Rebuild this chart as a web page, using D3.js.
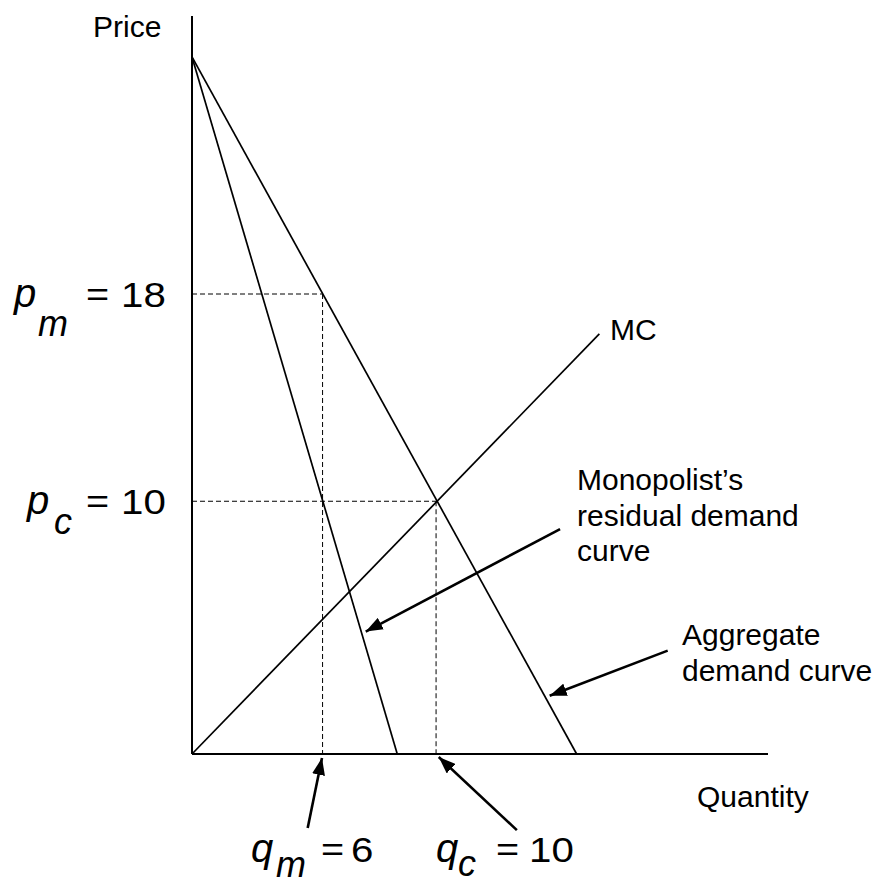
<!DOCTYPE html>
<html>
<head>
<meta charset="utf-8">
<script src="https://cdn.jsdelivr.net/npm/d3@7"></script>
<style>
  body { margin: 0; background: #fff; }
  text { font-family: "Liberation Sans", Arial, sans-serif; fill: #000; }
</style>
</head>
<body>
<div id="chart"></div>
<script>
// sketch units (the drawing is not to scale)
var axisMax = [23.6, 29.2];               // [quantity, price] at the axis ends
var curveNames = ["aggregate", "residual", "mc"];
var curveFrom = [[0, 27.58], [0, 27.58], [0, 0]];
var curveTo = [[15.76, 0], [8.41, 0], [16.69, 16.62]];

// equilibrium guides
var priceSym = ["m", "c"];
var priceVal = [18.2, 10];
var priceText = ["18", "10"];
var qtySym = ["m", "c"];
var qtyVal = [5.35, 10];
var qtyText = ["6", "10"];

// annotation arrows, tail -> tip
var arrowFrom = [[4.74, -2.93], [13.31, -3.01], [15.08, 8.90], [19.49, 4.09]];
var arrowTo = [[5.35, -0.04], [10.02, -0.04], [7.01, 4.79], [14.54, 2.26]];

var width = 885, height = 885;

var svg = d3.select("#chart").append("svg")
    .attr("width", width)
    .attr("height", height);

var x = d3.scaleLinear().domain([0, axisMax[0]]).range([192, 768]);
var y = d3.scaleLinear().domain([0, axisMax[1]]).range([754, 16]);

svg.append("defs").append("marker")
    .attr("id", "head")
    .attr("markerUnits", "userSpaceOnUse")
    .attr("viewBox", "0 0 17 13")
    .attr("refX", 17)
    .attr("refY", 6.5)
    .attr("markerWidth", 17)
    .attr("markerHeight", 13)
    .attr("orient", "auto")
    .append("path")
    .attr("d", "M0,0 L17,6.5 L0,13 Z")
    .attr("fill", "#000");

// dashed guides: p_m meets the aggregate curve above q_m, p_c meets MC above q_c
svg.selectAll(".hguide")
    .data(priceVal)
    .enter()
    .append("line")
    .attr("x1", x(0))
    .attr("x2", function (d, i) { return x(qtyVal[i]); })
    .attr("y1", function (d) { return y(d); })
    .attr("y2", function (d) { return y(d); })
    .attr("stroke", "#000")
    .attr("stroke-width", 1)
    .attr("stroke-dasharray", "5,3");

svg.selectAll(".vguide")
    .data(qtyVal)
    .enter()
    .append("line")
    .attr("x1", function (d) { return x(d); })
    .attr("x2", function (d) { return x(d); })
    .attr("y1", function (d, i) { return y(priceVal[i]); })
    .attr("y2", y(0))
    .attr("stroke", "#000")
    .attr("stroke-width", 1)
    .attr("stroke-dasharray", "5,3");

// curves
svg.selectAll(".curve")
    .data(curveNames)
    .enter()
    .append("line")
    .attr("class", function (d) { return "curve " + d; })
    .attr("x1", function (d, i) { return x(curveFrom[i][0]); })
    .attr("y1", function (d, i) { return y(curveFrom[i][1]); })
    .attr("x2", function (d, i) { return x(curveTo[i][0]); })
    .attr("y2", function (d, i) { return y(curveTo[i][1]); })
    .attr("stroke", "#000")
    .attr("stroke-width", 1.7);

// axes, no ticks
svg.append("line")
    .attr("x1", x(0)).attr("y1", y(0))
    .attr("x2", x(0)).attr("y2", y(axisMax[1]))
    .attr("stroke", "#000").attr("stroke-width", 2);
svg.append("line")
    .attr("x1", x(0)).attr("y1", y(0))
    .attr("x2", x(axisMax[0])).attr("y2", y(0))
    .attr("stroke", "#000").attr("stroke-width", 2);

// arrows (shaft stops short so the head makes the point)
svg.selectAll(".arrow")
    .data(arrowFrom)
    .enter()
    .append("line")
    .each(function (d, i) {
        var x1 = x(d[0]), y1 = y(d[1]), x2 = x(arrowTo[i][0]), y2 = y(arrowTo[i][1]);
        var len = Math.sqrt((x2 - x1) * (x2 - x1) + (y2 - y1) * (y2 - y1));
        var k = (len - 3) / len;
        d3.select(this)
            .attr("x1", x1).attr("y1", y1)
            .attr("x2", x1 + (x2 - x1) * k).attr("y2", y1 + (y2 - y1) * k);
    })
    .attr("stroke", "#000")
    .attr("stroke-width", 2.6)
    .attr("marker-end", "url(#head)");

// plain labels
var labels = [
    { t: "Price", x: 93, y: 37 },
    { t: "Quantity", x: 697, y: 807 },
    { t: "MC", x: 610, y: 340 },
    { t: "Monopolist\u2019s", x: 577, y: 490 },
    { t: "residual demand", x: 577, y: 526 },
    { t: "curve", x: 577, y: 561 },
    { t: "Aggregate", x: 682, y: 645 },
    { t: "demand curve", x: 682, y: 681 }
];
svg.selectAll(".lbl")
    .data(labels)
    .enter()
    .append("text")
    .attr("x", function (d) { return d.x; })
    .attr("y", function (d) { return d.y; })
    .attr("font-size", 30)
    .text(function (d) { return d.t; });

// math labels: italic symbol, italic subscript, "=" and the value (a bit wide, as in the sketch)
function mathLabel(letter, sub, val, px, py, subDx, subDy, eqX, valX) {
    var g = svg.append("g");
    g.append("text").attr("x", px).attr("y", py)
        .attr("font-size", 40).attr("font-style", "italic").text(letter);
    g.append("text").attr("x", px + subDx).attr("y", py + subDy)
        .attr("font-size", 36).attr("font-style", "italic").text(sub);
    g.append("text")
        .attr("transform", "translate(" + eqX + "," + (py - 1) + ") scale(1.2,1)")
        .attr("font-size", 33).text("=");
    g.append("text")
        .attr("transform", "translate(" + valX + "," + py + ") scale(1.15,1)")
        .attr("font-size", 35).text(val);
}

mathLabel("p", priceSym[0], priceText[0], 14, y(priceVal[0]) + 13, 24, 29, 86, 121);
mathLabel("p", priceSym[1], priceText[1], 27, y(priceVal[1]) + 13, 27, 20, 86, 121);
mathLabel("q", qtySym[0], qtyText[0], 251, 862, 25, 15, 321, 351);
mathLabel("q", qtySym[1], qtyText[1], 436, 862, 22, 14, 496, 529);
</script>
</body>
</html>
